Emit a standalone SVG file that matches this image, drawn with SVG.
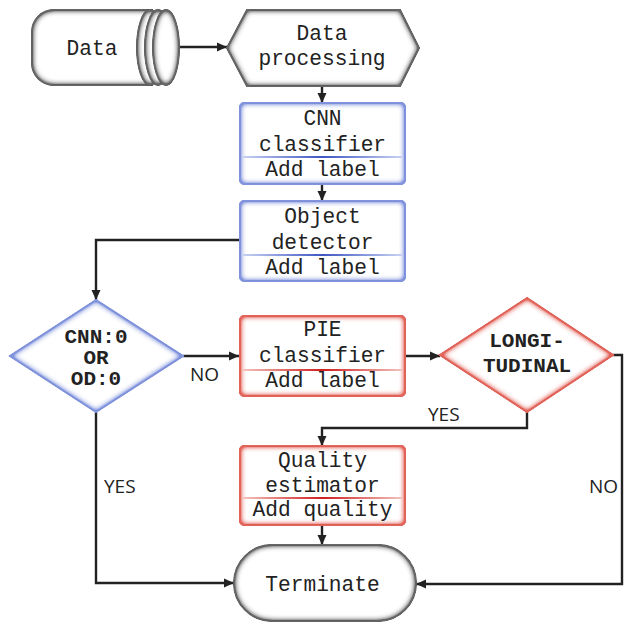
<svg xmlns="http://www.w3.org/2000/svg" width="624" height="622" viewBox="0 0 624 622">
<style>
.t{font-family:"Liberation Mono","Courier New",monospace;font-size:21.2px;fill:#222;text-anchor:middle}
.tb{font-family:"Liberation Mono","Courier New",monospace;font-size:21px;font-weight:bold;fill:#222;text-anchor:middle}
.lab{font-family:"Open Sans","DejaVu Sans",sans-serif;font-size:19px;fill:#222}
.blue{fill:#fff;stroke:#6278cc;stroke-width:1.8;filter:url(#gBlue)}
.red{fill:#fff;stroke:#cf3e34;stroke-width:1.8;filter:url(#gRed)}
.gray{fill:#fff;stroke:#333;stroke-width:1.8;filter:url(#gGray)}
.ln{fill:none;stroke:#222;stroke-width:2.4}
</style>
<defs>
<filter id="gBlue" x="-5%" y="-5%" width="110%" height="110%" color-interpolation-filters="sRGB">
<feGaussianBlur in="SourceAlpha" stdDeviation="3" result="b"/>
<feComposite in="SourceAlpha" in2="b" operator="arithmetic" k2="2.6" k3="-2.6" result="e"/>
<feFlood flood-color="#8193dc"/>
<feComposite in2="e" operator="in" result="g"/>
<feMerge><feMergeNode in="SourceGraphic"/><feMergeNode in="g"/></feMerge>
</filter>
<filter id="gRed" x="-5%" y="-5%" width="110%" height="110%" color-interpolation-filters="sRGB">
<feGaussianBlur in="SourceAlpha" stdDeviation="3" result="b"/>
<feComposite in="SourceAlpha" in2="b" operator="arithmetic" k2="2.6" k3="-2.6" result="e"/>
<feFlood flood-color="#e2645a"/>
<feComposite in2="e" operator="in" result="g"/>
<feMerge><feMergeNode in="SourceGraphic"/><feMergeNode in="g"/></feMerge>
</filter>
<filter id="gGray" x="-5%" y="-5%" width="110%" height="110%" color-interpolation-filters="sRGB">
<feGaussianBlur in="SourceAlpha" stdDeviation="3.2" result="b"/>
<feComposite in="SourceAlpha" in2="b" operator="arithmetic" k2="2.6" k3="-2.6" result="e"/>
<feFlood flood-color="#666"/>
<feComposite in2="e" operator="in" result="g"/>
<feMerge><feMergeNode in="SourceGraphic"/><feMergeNode in="g"/></feMerge>
</filter>
<linearGradient id="dBlue" x1="0" x2="1" y1="0" y2="0">
<stop offset="0" stop-color="#c9d2f3"/><stop offset="0.5" stop-color="#3d56c2"/><stop offset="1" stop-color="#c9d2f3"/>
</linearGradient>
<linearGradient id="dRed" x1="0" x2="1" y1="0" y2="0">
<stop offset="0" stop-color="#f3c3bd"/><stop offset="0.5" stop-color="#d01e1e"/><stop offset="1" stop-color="#f3c3bd"/>
</linearGradient>
<marker id="arr" viewBox="0 0 10 10" refX="10" refY="5" markerWidth="10" markerHeight="10" markerUnits="userSpaceOnUse" orient="auto">
<path d="M0,0.5 L10,5 L0,9.5 z" fill="#222"/>
</marker>
</defs>

<g id="connectors">
<path class="ln" d="M180,47 H227" marker-end="url(#arr)"/>
<path class="ln" d="M322,86 V103" marker-end="url(#arr)"/>
<path class="ln" d="M322,184 V201" marker-end="url(#arr)"/>
<path class="ln" d="M240,240 H96 V300" marker-end="url(#arr)"/>
<path class="ln" d="M183,356 H239" marker-end="url(#arr)"/>
<path class="ln" d="M405,356 H440" marker-end="url(#arr)"/>
<path class="ln" d="M527,412 V428 H322 V446" marker-end="url(#arr)"/>
<path class="ln" d="M613,355 H622 V584 H416" marker-end="url(#arr)"/>
<path class="ln" d="M322,525 V545" marker-end="url(#arr)"/>
<path class="ln" d="M96,412 V583 H234" marker-end="url(#arr)"/>
<text class="lab" x="190" y="381">NO</text>
<text class="lab" x="104" y="493">YES</text>
<text class="lab" x="428" y="421">YES</text>
<text class="lab" x="589" y="493">NO</text>
</g>

<g id="data">
<path class="gray" d="M152,10 H54 A22,22 0 0 0 32,32 V63 A22,22 0 0 0 54,85 H152 Z"/>
<ellipse class="gray" cx="150" cy="47.5" rx="13" ry="37.5"/>
<ellipse class="gray" cx="158" cy="47.5" rx="13" ry="37.5"/>
<ellipse class="gray" cx="166" cy="47.5" rx="13" ry="37.5"/>
<text class="t" x="92" y="55">Data</text>
</g>

<g id="processing">
<polygon class="gray" points="227,48 247,10 400,10 419,48 400,86 247,86"/>
<text class="t" x="322" y="40">Data</text>
<text class="t" x="322" y="65">processing</text>
</g>

<g id="cnn">
<rect class="blue" x="240" y="103" width="165" height="81" rx="4"/>
<rect x="243" y="156" width="159" height="2" fill="url(#dBlue)"/>
<text class="t" x="322.5" y="125">CNN</text>
<text class="t" x="322.5" y="151">classifier</text>
<text class="t" x="322.5" y="176">Add label</text>
</g>

<g id="detector">
<rect class="blue" x="240" y="201" width="165" height="80" rx="4"/>
<rect x="243" y="254" width="159" height="2" fill="url(#dBlue)"/>
<text class="t" x="322.5" y="223">Object</text>
<text class="t" x="322.5" y="249">detector</text>
<text class="t" x="322.5" y="274">Add label</text>
</g>

<g id="decision1">
<polygon class="blue" points="96,300 183,356 96,412 10,356"/>
<text class="tb" x="96" y="343">CNN:0</text>
<text class="tb" x="96" y="364">OR</text>
<text class="tb" x="96" y="385">OD:0</text>
</g>

<g id="pie">
<rect class="red" x="240" y="316" width="165" height="80" rx="4"/>
<rect x="243" y="369" width="159" height="2" fill="url(#dRed)"/>
<text class="t" x="322.5" y="336">PIE</text>
<text class="t" x="322.5" y="362">classifier</text>
<text class="t" x="322.5" y="387">Add label</text>
</g>

<g id="decision2">
<polygon class="red" points="527,298 613,355 527,412 440,355"/>
<text class="tb" x="527" y="347">LONGI-</text>
<text class="tb" x="527" y="372">TUDINAL</text>
</g>

<g id="quality">
<rect class="red" x="240" y="446" width="165" height="79" rx="4"/>
<rect x="243" y="497" width="159" height="2" fill="url(#dRed)"/>
<text class="t" x="322.5" y="467">Quality</text>
<text class="t" x="322.5" y="492">estimator</text>
<text class="t" x="322.5" y="516">Add quality</text>
</g>

<g id="terminate">
<rect class="gray" x="234" y="545" width="182" height="76" rx="38"/>
<text class="t" x="322.5" y="591">Terminate</text>
</g>
</svg>
